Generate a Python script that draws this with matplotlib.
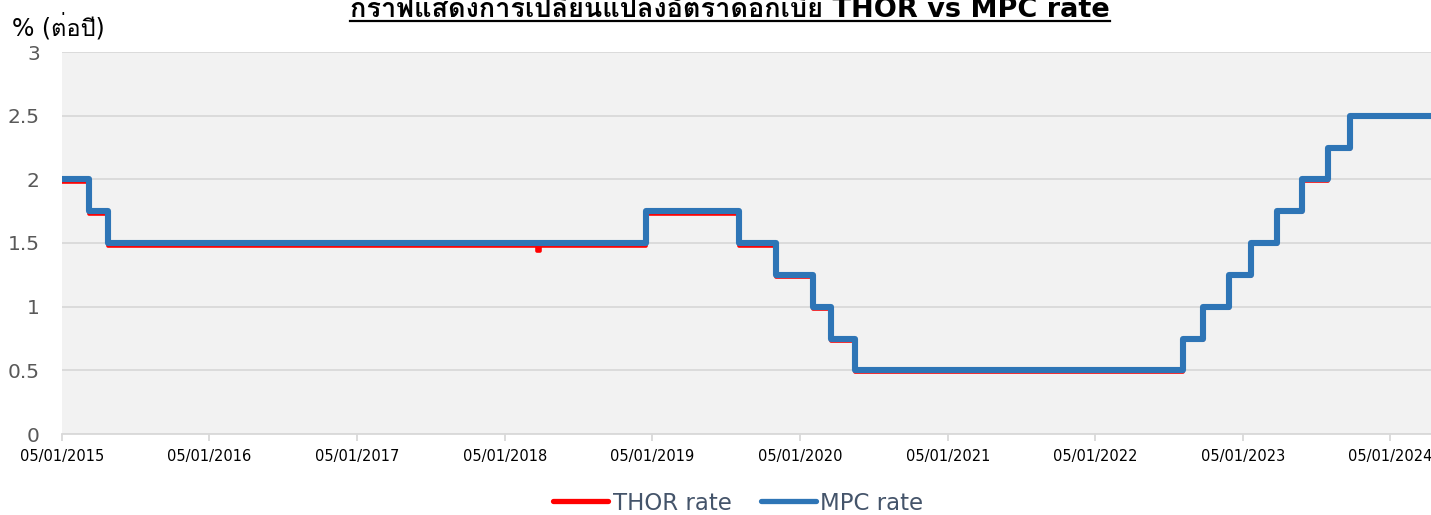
import numpy as np
import pandas as pd
import matplotlib
matplotlib.use('Agg')
import matplotlib.pyplot as plt
from matplotlib import font_manager
from matplotlib.ft2font import FT2Font
from matplotlib.lines import Line2D

# find an installed font that has Thai glyphs
thai_font = None
for f in font_manager.fontManager.ttflist:
    try:
        if ord('ก') in FT2Font(f.fname).get_charmap():
            thai_font = f.name
            break
    except Exception:
        pass
families = ['DejaVu Sans'] + ([thai_font] if thai_font else [])
plt.rcParams['font.family'] = families

# data
mpc_dates = ['2015-01-05', '2015-03-12', '2015-04-30', '2018-12-20', '2019-08-08',
             '2019-11-07', '2020-02-06', '2020-03-23', '2020-05-21', '2022-08-11',
             '2022-09-29', '2022-12-01', '2023-01-26', '2023-03-30', '2023-06-01',
             '2023-08-03', '2023-09-28']
mpc_rates = [2.00, 1.75, 1.50, 1.75, 1.50, 1.25, 1.00, 0.75, 0.50, 0.75,
             1.00, 1.25, 1.50, 1.75, 2.00, 2.25, 2.50]

thor_dates = ['2015-01-05', '2015-03-12', '2015-04-30', '2018-03-26', '2018-04-02',
              '2018-12-20', '2019-08-08', '2019-11-07', '2020-02-06', '2020-03-23',
              '2020-05-21', '2022-08-11', '2022-09-29', '2022-12-01', '2023-01-26',
              '2023-03-30', '2023-06-01', '2023-08-03', '2023-09-28']
thor_rates = [1.98, 1.73, 1.48, 1.44, 1.48, 1.73, 1.48, 1.23, 0.98, 0.73,
              0.49, 0.74, 0.99, 1.24, 1.49, 1.74, 1.99, 2.24, 2.49]

end_date = '2024-04-15'
tick_dates = ['2015-01-05', '2016-01-05', '2017-01-05', '2018-01-05', '2019-01-05',
              '2020-01-05', '2021-01-05', '2022-01-05', '2023-01-05', '2024-01-05']
tick_labels = ['05/01/2015', '05/01/2016', '05/01/2017', '05/01/2018', '05/01/2019',
               '05/01/2020', '05/01/2021', '05/01/2022', '05/01/2023', '05/01/2024']

fig = plt.figure(figsize=(14.31, 5.15), dpi=100)
ax = fig.add_axes([62 / 1431, 81 / 515, 1 - 62 / 1431, 382 / 515])
ax.set_facecolor('#F2F2F2')

td = pd.to_datetime(thor_dates + [end_date])
tv = thor_rates + [thor_rates[-1]]
md = pd.to_datetime(mpc_dates + [end_date])
mv = mpc_rates + [mpc_rates[-1]]

ax.step(td, tv, where='post', color='#FF0000', lw=2.6, label='THOR rate', zorder=3)
ax.step(md, mv, where='post', color='#2E75B6', lw=4.4, label='MPC rate',
        solid_joinstyle='round', solid_capstyle='round', zorder=4)

ax.set_xlim(pd.Timestamp(mpc_dates[0]), pd.Timestamp(end_date))
ax.set_ylim(0, 3)
ax.set_yticks([0, 0.5, 1, 1.5, 2, 2.5, 3])
ax.set_yticklabels(['0', '0.5', '1', '1.5', '2', '2.5', '3'])
ax.grid(axis='y', color='#D9D9D9', lw=1.3)
ax.set_axisbelow(True)
ax.set_xticks(pd.to_datetime(tick_dates))
ax.set_xticklabels(tick_labels, fontsize=10.5)

for s in ['top', 'right', 'left']:
    ax.spines[s].set_visible(False)
ax.spines['bottom'].set_color('#D9D9D9')
ax.spines['bottom'].set_linewidth(1.3)
ax.tick_params(axis='y', length=0, labelsize=14.5, labelcolor='#595959', pad=16)
ax.tick_params(axis='x', length=5, color='#D9D9D9', width=1.3, pad=6, labelcolor='#000000')

fig.text(12 / 1431, 1 - 27 / 515, '% (ต่อปี)', fontsize=17, va='center', ha='left')

title = fig.text(0.51, 1 - 17 / 515, 'กราฟแสดงการเปลี่ยนแปลงอัตราดอกเบี้ย THOR vs MPC rate',
                 fontsize=19.5, fontweight='bold', ha='center', va='baseline')
fig.canvas.draw()
bb = title.get_window_extent(fig.canvas.get_renderer())
uy = 1 - 20.5 / 515
fig.add_artist(Line2D([bb.x0 / fig.bbox.width, bb.x1 / fig.bbox.width], [uy, uy],
                      transform=fig.transFigure, color='black', lw=1.6))

leg = fig.legend(loc='center', bbox_to_anchor=(0.516, 1 - 503 / 515), ncol=2, frameon=False,
                 fontsize=16.5, handlelength=2.4, handletextpad=0.2, columnspacing=1.27,
                 labelcolor='#44546A')
for ln in leg.get_lines():
    ln.set_linewidth(3.8)
    ln.set_solid_capstyle('round')

fig.savefig('out.png', dpi=100)
